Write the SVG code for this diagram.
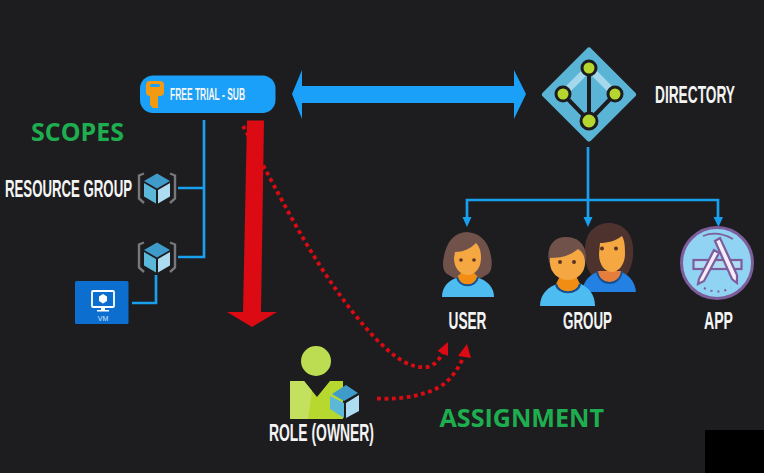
<svg xmlns="http://www.w3.org/2000/svg" xmlns:xlink="http://www.w3.org/1999/xlink" width="764" height="473" viewBox="0 0 764 473">
<style>
.lbl{font-family:"Liberation Sans",Arial,sans-serif;font-weight:700;fill:#f4f4f4;font-size:23.5px}
.grn{font-family:"Open Sans","Liberation Sans",sans-serif;font-weight:700;fill:#1fae4f}
.ln{fill:none;stroke:#189fee;stroke-width:2.7}
.dot{fill:none;stroke:#dc0a12;stroke-width:3.8;stroke-dasharray:3.8 3.6}
.red{fill:#dc0a12}
.ah{fill:#189fee}
.big{fill:#1aa0f8}
.eye{fill:#5a3325}
</style>
<defs>
<g id="cube">
<path d="M-13-15-18-13V10L-13 14.500" fill="none" stroke="#77777c" stroke-width="2.400"/>
<path d="M13-15 18-13V10L13 14.500" fill="none" stroke="#77777c" stroke-width="2.400"/>
<path d="M0-15 13-7.500 0 0-13-7.500Z" fill="#3f9bc9"/>
<path d="M-13-5.500-1 1.500V15L-13 8Z" fill="#5cb8d8"/>
<path d="M13-5.500 1 1.500V15L13 8Z" fill="#aedcf0"/>
</g>
</defs>
<rect width="764" height="473" fill="#1d1d1f"/>
<rect x="705" y="430" width="59" height="43" fill="#000"/>

<g id="connectors">
<path class="ln" d="M204 120V257H178M204 188H178"/>
<path class="ln" d="M156 275V303H132"/>
<path class="ln" d="M588 147V222M467 222V200H718V222"/>
<path class="ah" d="M462.500 217H471.500L467 227ZM583.500 217H592.500L588 227ZM713.500 217H723L718.500 227Z"/>
<path class="big" d="M292 94 302 70V86H514V70L526 94 514 119V103H302V119Z"/>
<path class="red" d="M247 120.500H264L261 312H277L252 327 227 312H243Z"/>
<path class="dot" d="M243 126Q250 138 264 167C290 215 325 285 376 339C395 358 410 369 428 367Q438 364 443 352"/>
<path class="red" d="M448 342 437.500 351 448 356Z"/>
<path class="dot" d="M377 398.500C405 400 430 394 444 384Q456 374 463 358"/>
<path class="red" d="M467 344 458 356 471 358Z"/>
</g>

<g id="sub">
<rect x="140" y="75.500" width="135.500" height="37.500" rx="13" class="big"/>
<path d="M146 85Q146 81 150 81H160Q164 81 164 85V92Q164 96 160 96H158V108H153L150 105V96H150Q146 96 146 92Z" fill="#f29a12"/>
<rect x="150" y="84" width="10" height="3" rx="1.500" fill="#1aa0f8"/>
<text x="170" y="99.500" class="lbl" style="font-size:16px" textLength="75" lengthAdjust="spacingAndGlyphs">FREE TRIAL - SUB</text>
</g>

<g id="directory">
<path d="M589 50.500 633 94.500 589 138.500 545 94.500Z" fill="#5ab4d6" stroke="#5ab4d6" stroke-width="6" stroke-linejoin="round"/>
<path d="M589 68 563 94M589 68 615 94" stroke="#a5d8ec" stroke-width="7" fill="none"/>
<path d="M589 68V121M563 94 589 121 615 94" stroke="#1d1d1f" stroke-width="4" fill="none"/>
<g fill="#b5d62f" stroke="#1d1d1f" stroke-width="3">
<circle cx="589" cy="68" r="7"/><circle cx="563" cy="94" r="7"/><circle cx="615" cy="94" r="7"/><circle cx="589" cy="121" r="8"/>
</g>
<text x="655" y="103" class="lbl" textLength="80" lengthAdjust="spacingAndGlyphs">DIRECTORY</text>
</g>

<text x="31" y="141" class="grn" font-size="25" textLength="93" lengthAdjust="spacingAndGlyphs">SCOPES</text>

<g id="resource-group">
<text x="5" y="197" class="lbl" textLength="127" lengthAdjust="spacingAndGlyphs">RESOURCE GROUP</text>
<use xlink:href="#cube" href="#cube" x="157" y="188.500"/>
</g>
<g id="resource-group-2">
<use xlink:href="#cube" href="#cube" x="157" y="257.500"/>
</g>

<g id="vm">
<rect x="75" y="281" width="53.500" height="43" rx="1.500" fill="#0c6fd0"/>
<rect x="92" y="291" width="22" height="16" rx="1" fill="#0c6fd0" stroke="#fff" stroke-width="1.800"/>
<path d="M103 294 107 296.500V301L103 303.500 99 301V296.500Z" fill="#fff"/>
<path d="M101 307H105V310H109V311.500H97V310H101Z" fill="#fff"/>
<text x="103" y="321" text-anchor="middle" font-family="Liberation Sans,sans-serif" font-size="7" fill="#d7e8f8">VM</text>
</g>

<g id="user">
<path d="M467 232C455 232 447 241 444 256 442 265 443 271 447 274L454 278H481L488 274C492 271 493 263 490 252 487 240 479 233 467 232Z" fill="#71524a"/>
<path d="M442 297C442 286 449 280 459 277H476C486 280 494 286 494 297Z" fill="#4dbcf0"/>
<path d="M457 277C459 288 476 288 478 277L474 273H461Z" fill="#f18d12"/>
<path d="M457 277C459 288 476 288 478 277" fill="none" stroke="#174f8f" stroke-width="2"/>
<path d="M455 252C463 252 470 249 476 243 480 247 481 252 481 258 481 268 475 275 468 275 460 275 454 268 454 258Z" fill="#f5a742"/>
<circle class="eye" cx="461" cy="260" r="1.800"/><circle class="eye" cx="474" cy="260" r="1.800"/>
<text x="467.500" y="329" text-anchor="middle" class="lbl" textLength="38" lengthAdjust="spacingAndGlyphs">USER</text>
</g>

<g id="group">
<path d="M609 223C596 223 586 232 585 247 584 260 587 270 593 277H625C631 270 634 260 633 247 632 232 622 223 609 223Z" fill="#4d322e"/>
<path d="M582 292C583 281 590 274 600 271H619C628 274 635 281 636 292Z" fill="#2281e2"/>
<path d="M597 271C599 287 620 287 622 271" fill="#e57e3a" stroke="#174f8f" stroke-width="2"/>
<path d="M600 243C608 243 615 241 622 236 625 241 625 248 625 254 625 265 618 272 612 272 605 272 599 265 599 254Z" fill="#f5a742"/>
<circle class="eye" cx="602" cy="248.500" r="2"/><circle class="eye" cx="616" cy="248.500" r="2"/>
<path d="M549 262C546 247 553 237 566 237 577 237 585 243 586 256L585 266 551 266Z" fill="#71524a"/>
<path d="M540 306C540 294 548 287 559 283H578C588 286 595 294 595 306Z" fill="#4dbcf0"/>
<path d="M556 284C558 295 578 295 580 284L576 276H560Z" fill="#f18d12"/>
<path d="M556 284C558 295 578 295 580 284" fill="none" stroke="#174f8f" stroke-width="2.200"/>
<path d="M550 258C560 258 570 256 578 249 583 252 585 257 585 263 585 273 577 280 568 280 558 280 550 272 550 263Z" fill="#f5a742"/>
<circle class="eye" cx="560" cy="262" r="2"/><circle class="eye" cx="574" cy="262" r="2"/>
<text x="587.500" y="329" text-anchor="middle" class="lbl" textLength="49" lengthAdjust="spacingAndGlyphs">GROUP</text>
</g>

<g id="app">
<circle cx="717" cy="263" r="35.500" fill="#91d3f2" stroke="#7d5d9c" stroke-width="3"/>
<rect x="693.500" y="260" width="48" height="9" fill="#aedcf2" stroke="#7d5d9c" stroke-width="2.200"/>
<path d="M699 279 714 250 719 253 704 281 698 284Z" fill="#f4ecf8" stroke="#7d5d9c" stroke-width="2.200"/>
<path d="M715 241 720 238 737 275 737 283 732 279Z" fill="#f4ecf8" stroke="#7d5d9c" stroke-width="2.200"/>
<path d="M703 236Q717 230 733 239" fill="none" stroke="#7d5d9c" stroke-width="1.800"/>
<path d="M704 288Q717 295 731 288" fill="none" stroke="#7d5d9c" stroke-width="2" stroke-dasharray="2 5"/>
<text x="718.500" y="329" text-anchor="middle" class="lbl" textLength="29" lengthAdjust="spacingAndGlyphs">APP</text>
</g>

<g id="role">
<circle cx="316" cy="361" r="15" fill="#bcdc52"/>
<path d="M290 381H304L317 397 330 381H343V419H290Z" fill="#b7d92f"/>
<path d="M290 381H304L312 391 308 419H290Z" fill="#c3e05e"/>
<path d="M332 394 346 385 358 393 344 401Z" fill="#3f9bc9"/>
<path d="M330 396 344 403V418L330 409Z" fill="#5cb8d8"/>
<path d="M359 395 346 403V418L359 411Z" fill="#aedcf0"/>
<text x="269" y="441" class="lbl" textLength="105" lengthAdjust="spacingAndGlyphs">ROLE (OWNER)</text>
</g>

<text x="439.500" y="427" class="grn" font-size="25" textLength="164.500" lengthAdjust="spacingAndGlyphs">ASSIGNMENT</text>
</svg>
